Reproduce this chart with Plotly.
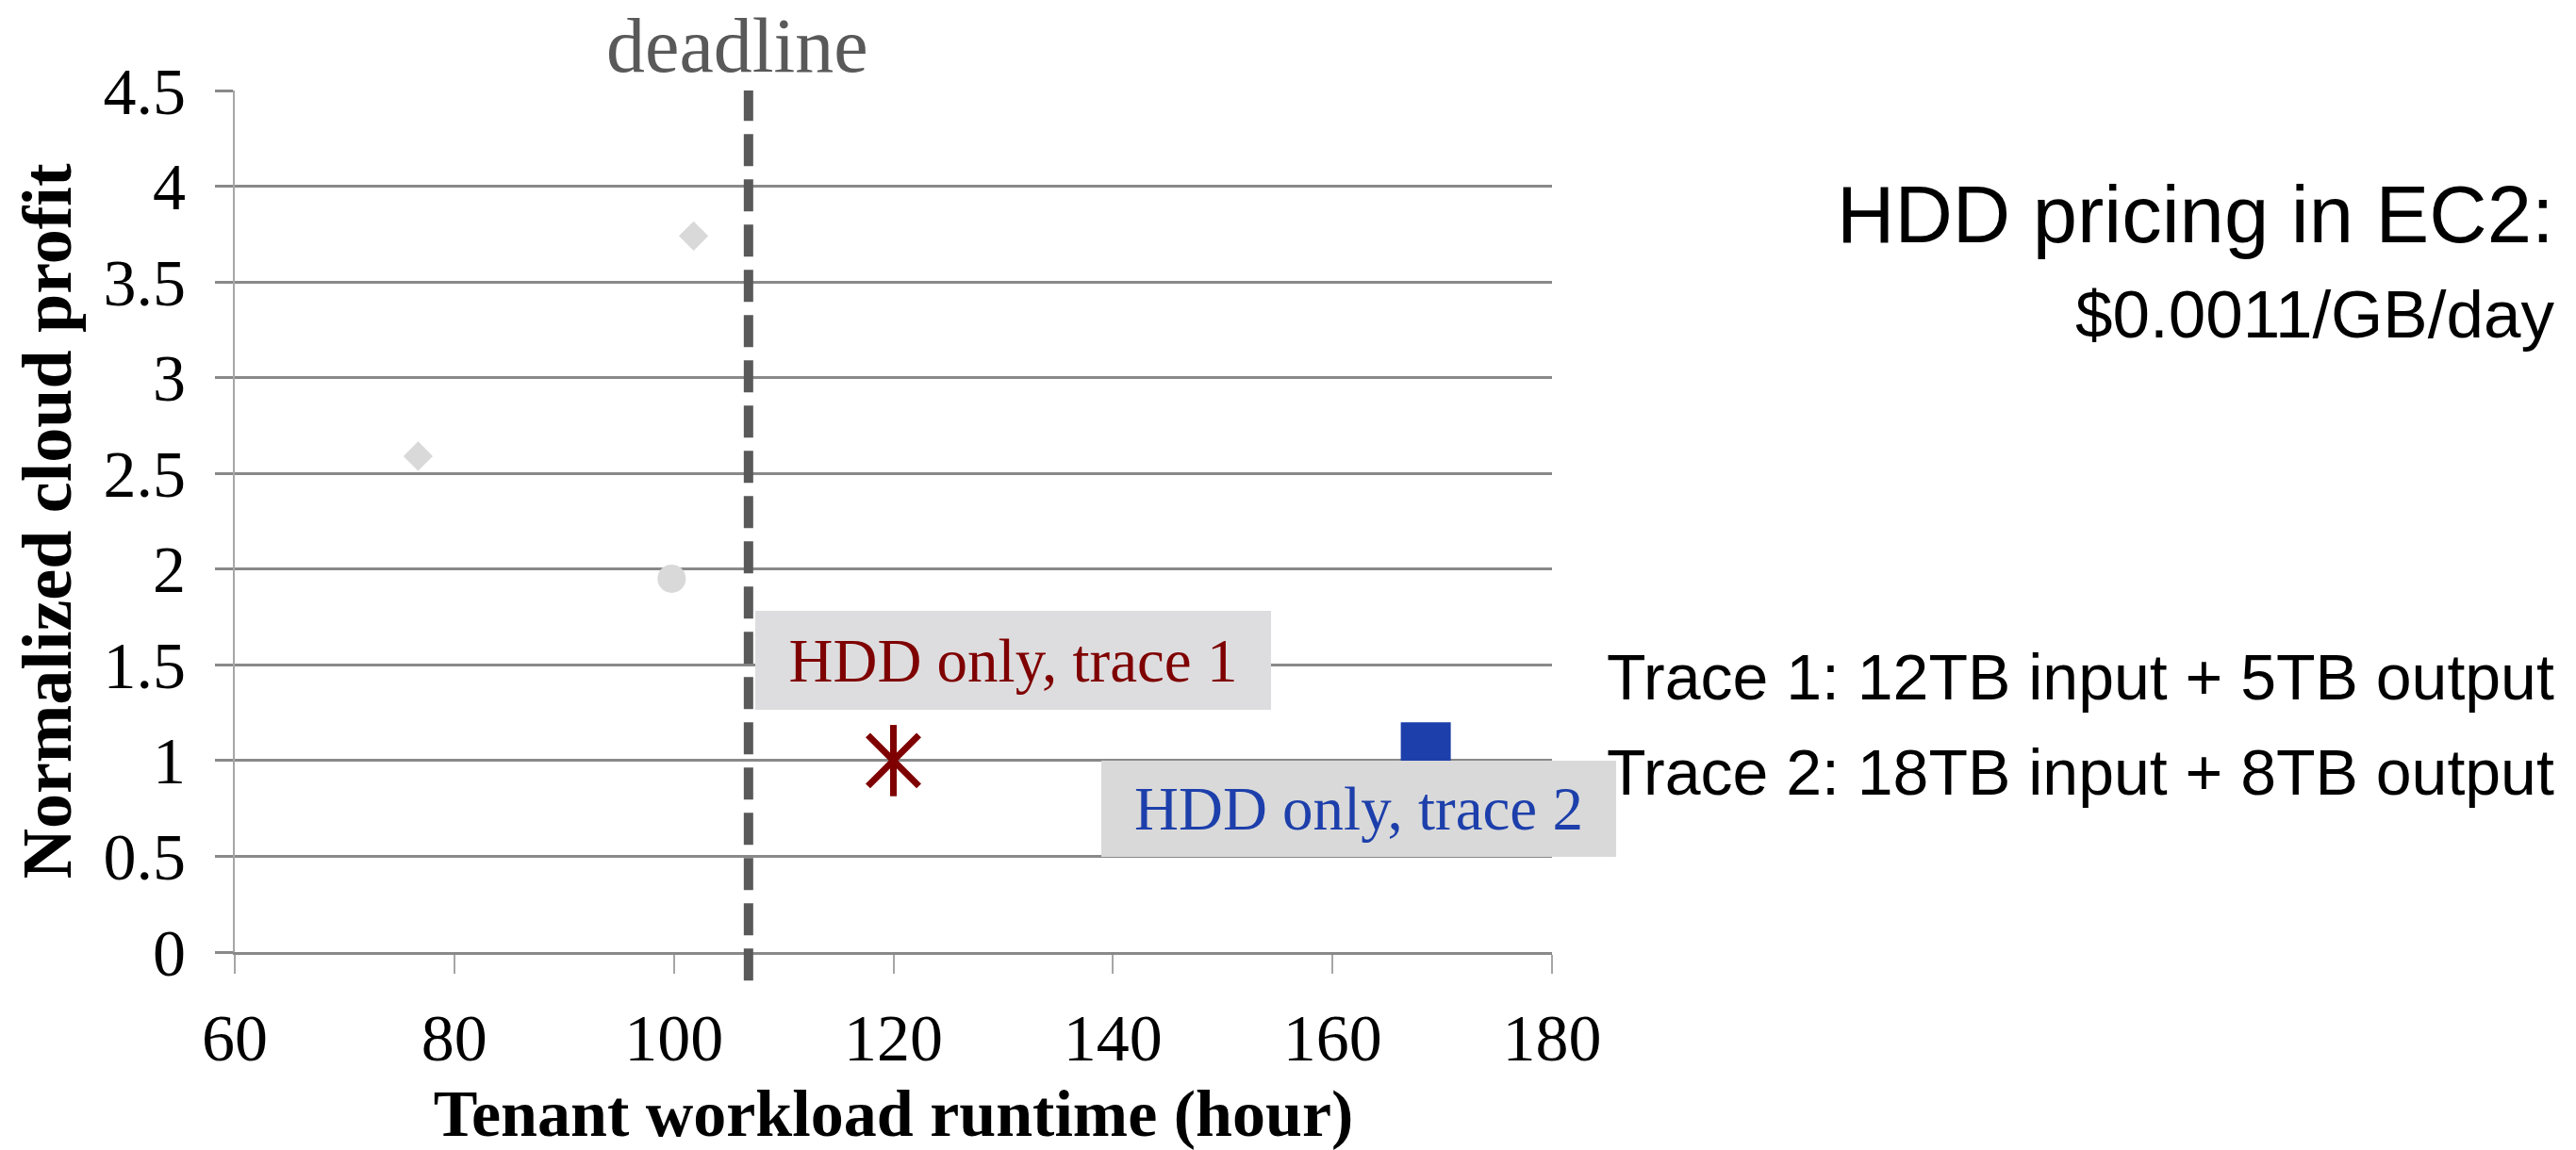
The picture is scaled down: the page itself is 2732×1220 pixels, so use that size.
import plotly.graph_objects as go

# Runtime (hour) vs normalized cloud profit
diamond_x = [76.7, 101.8]
diamond_y = [2.59, 3.74]
circle_x = [99.8]
circle_y = [1.95]
trace1_x = [120]
trace1_y = [1.0]
trace2_x = [168.5]
trace2_y = [1.07]
deadline_x = 106.8

x_ticks = [60, 80, 100, 120, 140, 160, 180]
y_ticks = [0, 0.5, 1, 1.5, 2, 2.5, 3, 3.5, 4, 4.5]
y_tick_text = ["0", "0.5", "1", "1.5", "2", "2.5", "3", "3.5", "4", "4.5"]

SERIF = "Liberation Serif"
SANS = "Liberation Sans"
GRID = "#898989"
LIGHT = "#d9d9d9"
RED = "#7f0000"
BLUE = "#1d3fab"

fig = go.Figure()

fig.add_trace(go.Scatter(x=diamond_x, y=diamond_y, mode="markers",
                         marker=dict(symbol="diamond", size=24, color=LIGHT, line_width=0),
                         showlegend=False))
fig.add_trace(go.Scatter(x=circle_x, y=circle_y, mode="markers",
                         marker=dict(symbol="circle", size=30, color=LIGHT, line_width=0),
                         showlegend=False))
# asterisk: an X with a vertical stroke through it
fig.add_trace(go.Scatter(x=trace1_x, y=trace1_y, mode="markers",
                         marker=dict(symbol="x-thin-open", size=54, color=RED,
                                     line=dict(color=RED, width=7)),
                         showlegend=False))
fig.add_trace(go.Scatter(x=trace1_x, y=trace1_y, mode="markers",
                         marker=dict(symbol="line-ns-open", size=54, color=RED,
                                     line=dict(color=RED, width=7)),
                         showlegend=False))
fig.add_trace(go.Scatter(x=trace2_x, y=trace2_y, mode="markers",
                         marker=dict(symbol="square", size=53, color=BLUE, line_width=0),
                         showlegend=False))

# deadline marker
fig.add_shape(type="line", xref="x", yref="paper", x0=deadline_x, x1=deadline_x,
              y0=-0.033, y1=1.0, line=dict(color="#595959", width=10, dash="34px,14px"),
              layer="above")
fig.add_annotation(x=deadline_x, xref="x", y=1.104, yref="paper", text="deadline",
                   showarrow=False, font=dict(family=SERIF, size=82, color="#595959"),
                   xanchor="center", yanchor="top", xshift=-12)

# point labels
fig.add_annotation(x=130.9, y=1.523, xref="x", yref="y", text="HDD only, trace 1",
                   showarrow=False, font=dict(family=SERIF, size=65, color=RED),
                   bgcolor="#dddddf", width=547, height=105, borderpad=0, borderwidth=0,
                   xanchor="center", yanchor="middle", align="center", valign="middle")
fig.add_annotation(x=162.4, y=0.746, xref="x", yref="y", text="HDD only, trace 2",
                   showarrow=False, font=dict(family=SERIF, size=65, color=BLUE),
                   bgcolor=LIGHT, width=546, height=102, borderpad=0, borderwidth=0,
                   xanchor="center", yanchor="middle", align="center", valign="middle")

# side notes
notes = [
    ("HDD pricing in EC2:", 0.8557, 85),
    ("$0.0011/GB/day", 0.7397, 71),
    ("Trace 1: 12TB input + 5TB output", 0.3198, 68),
    ("Trace 2: 18TB input + 8TB output", 0.2094, 68),
]
for txt, yp, fs in notes:
    fig.add_annotation(x=1.762, xref="paper", y=yp, yref="paper", text=txt,
                       showarrow=False, font=dict(family=SANS, size=fs, color="black"),
                       xanchor="right", yanchor="middle", align="right")

fig.update_layout(
    width=2732, height=1220,
    margin=dict(l=249, r=1086, t=96, b=210, autoexpand=False),
    paper_bgcolor="white", plot_bgcolor="white",
    font=dict(family=SERIF, color="black"),
)
fig.update_xaxes(
    range=[60, 180], tickvals=x_ticks, ticktext=[str(v) for v in x_ticks],
    automargin=False,
    showgrid=False, zeroline=False,
    showline=True, linecolor=GRID, linewidth=3,
    ticks="outside", ticklen=20, tickwidth=2, tickcolor="#a6a6a6",
    tickfont=dict(family=SERIF, size=70, color="black"), ticklabelstandoff=8,
    title=dict(text="<b>Tenant workload runtime (hour)</b>",
               font=dict(family=SERIF, size=70, color="black"), standoff=25),
)
fig.update_yaxes(
    range=[0, 4.5], tickvals=y_ticks, ticktext=y_tick_text,
    automargin=False,
    showgrid=True, gridcolor=GRID, gridwidth=3, zeroline=False,
    showline=True, linecolor="#a6a6a6", linewidth=2,
    ticks="outside", ticklen=19, tickwidth=3, tickcolor=GRID,
    tickfont=dict(family=SERIF, size=70, color="black"), ticklabelstandoff=17,
    title=dict(text="<b>Normalized cloud profit</b>",
               font=dict(family=SERIF, size=74, color="black"), standoff=10),
)

fig.write_html("out.html")
